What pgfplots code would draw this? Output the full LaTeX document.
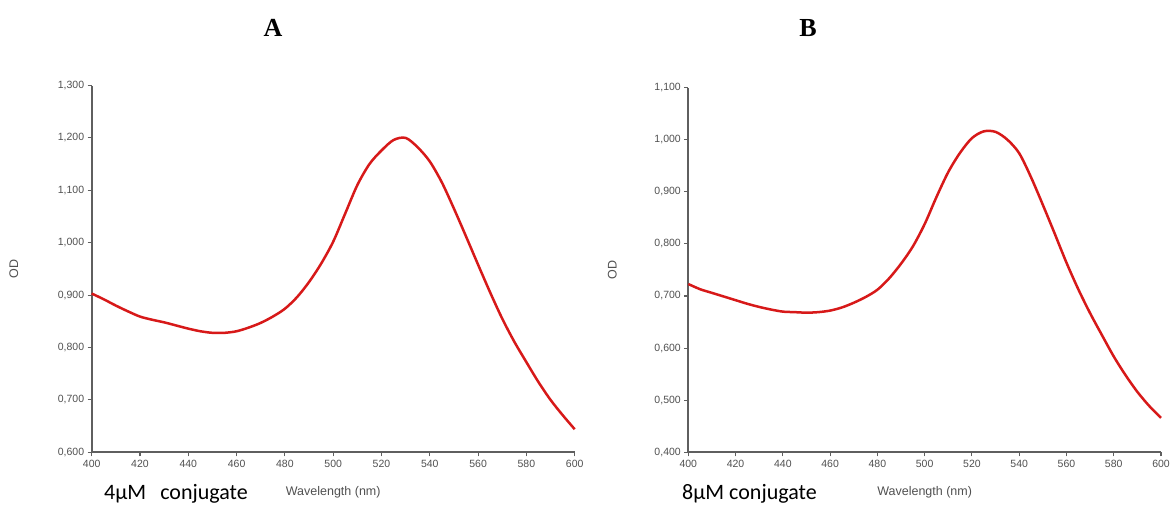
\documentclass[border=0pt]{standalone}
\usepackage{pgfplots}
\pgfplotsset{compat=1.18}
\usepackage{fontspec}
\setmainfont{Liberation Sans}
\newfontfamily\calibri{Carlito}
\newfontfamily\timesf{Liberation Serif}
\definecolor{curvered}{RGB}{215,25,25}
\definecolor{axisgray}{RGB}{95,95,95}
\definecolor{labgray}{RGB}{80,80,80}

\pgfplotstableread{
x y
400 0.903
405 0.892
410 0.880
415 0.869
420 0.859
425 0.853
430 0.848
435 0.842
440 0.836
445 0.831
450 0.828
455 0.828
460 0.831
465 0.838
470 0.847
475 0.859
480 0.874
485 0.896
490 0.925
495 0.960
500 1.002
505 1.056
510 1.110
515 1.150
520 1.176
525 1.196
530 1.200
535 1.182
540 1.155
545 1.115
550 1.065
555 1.012
560 0.958
565 0.905
570 0.855
575 0.811
580 0.772
585 0.734
590 0.700
595 0.671
600 0.644
}\dataA

\pgfplotstableread{
x y
400 0.723
405 0.713
410 0.706
415 0.699
420 0.692
425 0.685
430 0.679
435 0.674
440 0.670
445 0.669
450 0.668
455 0.669
460 0.672
465 0.678
470 0.687
475 0.698
480 0.712
485 0.734
490 0.762
495 0.795
500 0.838
505 0.890
510 0.938
515 0.975
520 1.003
525 1.016
530 1.015
535 1.000
540 0.974
545 0.928
550 0.875
555 0.820
560 0.764
565 0.713
570 0.667
575 0.625
580 0.584
585 0.548
590 0.516
595 0.489
600 0.466
}\dataB

\pgfplotsset{
 spec/.style={
  scale only axis,
  anchor=south west,
  axis x line*=bottom, axis y line*=left,
  axis line style={axisgray, line width=1.8pt, -},
  tick style={axisgray, line width=1.1pt},
  tick align=outside,
  major tick length=4pt,
  xmin=400, xmax=600, xtick={400,420,...,600},
  clip=false,
  /pgf/number format/assume math mode=true,
  tick label style={font=\fontsize{10.5}{12}\selectfont, text=labgray},
  xticklabel style={/pgf/number format/.cd, fixed, 1000 sep={}},
  yticklabel style={/pgf/number format/.cd, fixed, fixed zerofill, precision=3, use comma},
  xlabel={Wavelength (nm)}, ylabel={OD},
  label style={font=\fontsize{12.5}{14}\selectfont, text=labgray},
  xlabel style={at={(axis description cs:0.5,0)}, anchor=center, yshift=-40pt},
 }
}

\begin{document}
\begin{tikzpicture}
\useasboundingbox (0,0) rectangle (1172pt,508pt);

\begin{axis}[spec, at={(91.7pt,55.7pt)}, width=483pt, height=366.8pt,
  ymin=0.6, ymax=1.3, ytick={0.6,0.7,0.8,0.9,1.0,1.1,1.2,1.3},
  ylabel style={at={(axis description cs:-0.161,0.5)}, anchor=center}]
\addplot[curvered, line width=2.5pt, smooth, no marks] table[x=x,y=y] {\dataA};
\end{axis}

\begin{axis}[spec, at={(688.3pt,55.7pt)}, width=472.7pt, height=364.7pt,
  ymin=0.4, ymax=1.1, ytick={0.4,0.5,0.6,0.7,0.8,0.9,1.0,1.1},
  ylabel style={at={(axis description cs:-0.161,0.5)}, anchor=center}]
\addplot[curvered, line width=2.5pt, smooth, no marks] table[x=x,y=y] {\dataB};
\end{axis}

\node[font=\timesf\bfseries\fontsize{26}{28}\selectfont] at (273pt,480pt) {A};
\node[font=\timesf\bfseries\fontsize{26}{28}\selectfont] at (808pt,480pt) {B};
\node[font=\calibri\fontsize{22}{24}\selectfont, anchor=west, inner sep=0pt] at (104pt,14pt) {4µM\hspace{14pt}conjugate};
\node[font=\calibri\fontsize{22}{24}\selectfont, anchor=west, inner sep=0pt] at (682pt,14pt) {8µM conjugate};
\end{tikzpicture}
\end{document}
